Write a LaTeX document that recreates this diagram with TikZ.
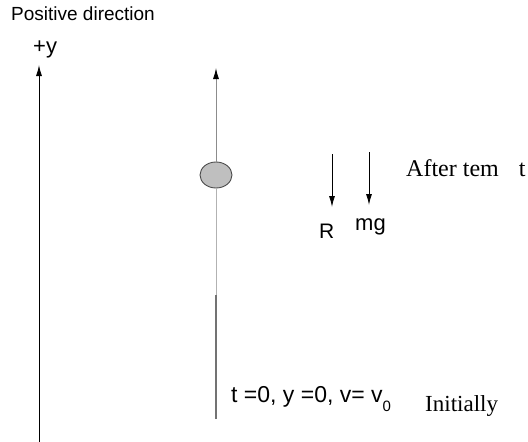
\documentclass[tikz,border=0pt]{standalone}
\usepackage{fontspec}
\setmainfont{Liberation Serif}
\setsansfont{Liberation Sans}
\usetikzlibrary{arrows.meta,calc,shapes.geometric}

\begin{document}
\begin{tikzpicture}[x=1pt,y=-1pt]

% --------------------
% Parameters (tweak these)
% --------------------
\def\axisX{39}     % left axis position
\def\pathX{216}    % path of the body
\def\ballRx{16pt}  % ball half width
\def\ballRy{13pt}  % ball half height

\tikzset{
  arrow/.style={-{Latex[length=11pt,width=6pt,color=black]}, line width=0.9pt},
  sanslbl/.style={font=\sffamily\fontsize{22}{24}\selectfont, inner sep=0pt, anchor=base west},
  seriflbl/.style={font=\rmfamily\fontsize{23}{25}\selectfont, inner sep=0pt, anchor=base west},
  ball/.style={ellipse, draw=black!70, fill=black!25, line width=0.9pt,
    minimum width=2*\ballRx, minimum height=2*\ballRy, inner sep=0pt}
}

\useasboundingbox (0,0) rectangle (528,442);

% --------------------
% Axis on the left
% --------------------
\node[sanslbl, font=\sffamily\fontsize{19}{21}\selectfont] (dir) at (11,20) {Positive direction};
\node[sanslbl] (plusy) at (33,53) {+y};

\coordinate (axB) at (\axisX,442);
\coordinate (axT) at (\axisX,65);
\draw[arrow] (axB) -- (axT);

% --------------------
% Path of the ball
% --------------------
\coordinate (pB) at (\pathX,419);
\coordinate (pM) at (\pathX,295);
\coordinate (pT) at (\pathX,68);
\node[ball] (b) at (\pathX,175) {};

\draw[line width=1.2pt, black!55] (pB) -- (pM);
\draw[line width=0.9pt, black!30] (pM) -- (b.south);
\draw[arrow, black!45] (b.north) -- (pT);

% --------------------
% Forces after time t
% --------------------
\coordinate (rT) at (332,154);
\coordinate (rB) at (332,207);
\coordinate (gT) at (369,152);
\coordinate (gB) at (369,205);
\draw[arrow] (rT) -- (rB);
\draw[arrow] (gT) -- (gB);

\node[sanslbl, font=\sffamily\fontsize{21}{23}\selectfont] (R) at (319,238) {R};
\node[sanslbl] (mg) at (355,230) {mg};
\node[seriflbl, font=\rmfamily\fontsize{24}{26}\selectfont] (after) at (406,176) {After tem\hspace{20pt}t};

% --------------------
% Initial state
% --------------------
\node[sanslbl, font=\sffamily\fontsize{23}{25}\selectfont] (init) at (231,402)
  {t =0, y =0, v= v\raisebox{-9pt}{\fontsize{15}{15}\selectfont 0}};
\node[seriflbl] (initly) at (425,411) {Initially};

\end{tikzpicture}
\end{document}
